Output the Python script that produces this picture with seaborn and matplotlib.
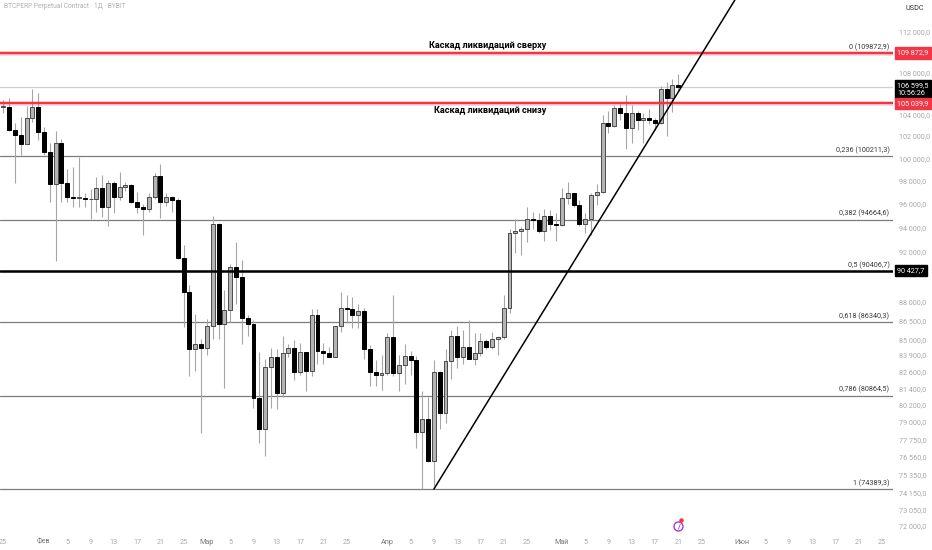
import matplotlib
matplotlib.use("Agg")
import matplotlib.pyplot as plt
import matplotlib.dates as mdates
from matplotlib.ticker import NullLocator
import pandas as pd
import seaborn as sns

# дневные свечи BTCPERP (Bybit), 24.01 - 21.05.2025
start_date = "2025-01-24"
opens = [104000, 104700, 104700, 102600, 102100, 101300, 103700, 104700,
         102400, 100600, 97700, 101400, 97800, 96600, 96500, 96500, 96400, 96400, 97400, 95700,
         97800, 96600, 97500, 97600, 96200, 95700, 95600, 96600, 98400, 96200, 96600, 96300,
         91500, 88700, 84300, 84700,
         84400, 86100, 94300, 86200, 87300, 90700, 89900, 86700, 86200, 80700, 78500, 83000,
         83700, 81100, 84000, 84400, 82600, 84100, 82700, 86900, 84200, 84000, 83700, 86100,
         87500, 87400, 86900, 87200, 84300, 82600, 82400,
         82500, 85200, 82500, 83100, 83800, 83500, 78300, 79200, 76300, 82600, 79600, 83400,
         85300, 83700, 84500, 83600, 84000, 84900, 84500, 85100, 85200, 87500, 93500, 93700,
         93900, 94700, 94600, 93700, 95000, 94300,
         94200, 96500, 96900, 95900, 94300, 94700, 96800, 97000, 103200, 102900, 104600, 104100,
         102700, 104100, 103500, 103700, 103500, 103200, 106400, 105500, 106800]
highs = [107000, 105300, 105500, 103200, 103800, 104800, 106400, 106000,
         102800, 101400, 102500, 101700, 99000, 99200, 100100, 96900, 97300, 98300, 98500, 98100,
         98000, 98800, 97900, 97700, 97000, 96000, 96900, 98700, 99500, 96900, 96700, 96500,
         92500, 89300, 87000, 85100,
         86600, 95000, 94400, 88900, 91000, 92800, 91300, 86900, 86500, 84100, 83600, 84400,
         84300, 85300, 84700, 85000, 84800, 84100, 87400, 87400, 84800, 84500, 86100, 88700,
         88500, 88300, 87800, 87500, 84600, 83500, 83900,
         85500, 88500, 83900, 84700, 84200, 83800, 81200, 80800, 83500, 82700, 84300, 85800,
         86100, 85800, 86500, 85500, 85500, 85100, 85600, 85300, 88500, 93900, 94700, 94000,
         95700, 95300, 95200, 95600, 95500, 95200,
         97400, 97900, 96900, 96300, 95200, 96900, 97700, 103900, 104300, 104900, 105000, 105800,
         104900, 104300, 104100, 104500, 103700, 106700, 107100, 107300, 107800]
lows = [103200, 104100, 102500, 97800, 100300, 101300, 103300, 101600,
        100300, 96200, 91200, 96200, 96200, 95700, 95700, 95700, 94700, 95300, 94900, 94100,
        95200, 96300, 97100, 96100, 95200, 93400, 95300, 96400, 94800, 95800, 95300, 91400,
        86000, 82300, 82700, 78200,
        83900, 85100, 85100, 81400, 86400, 87800, 84700, 85300, 80000, 77500, 76600, 80000,
        79900, 80800, 83700, 82000, 82400, 81200, 82300, 83200, 83200, 83700, 83700, 85600,
        86300, 85900, 85900, 83600, 81600, 81600, 81300,
        82400, 82300, 81200, 81700, 82400, 77200, 74400, 76200, 74600, 78500, 78900, 82100,
        82900, 83200, 83600, 83100, 83800, 84300, 84300, 83900, 85100, 87100, 91900, 91700,
        92800, 93900, 93500, 92900, 93800, 92900,
        94100, 96000, 95700, 94100, 93500, 93400, 95900, 96900, 102300, 102800, 103500, 100800,
        101400, 102600, 101400, 103100, 102600, 103100, 102000, 104200, 106200]
closes = [104700, 104700, 102600, 102100, 101300, 103700, 104700, 102400,
          100600, 97700, 101400, 97800, 96600, 96500, 96500, 96400, 96400, 97400, 95700, 97800,
          96600, 97500, 97600, 96200, 95700, 95600, 96600, 98400, 96200, 96600, 96300, 91500,
          88700, 84300, 84700, 84400,
          86100, 94300, 86200, 87300, 90700, 89900, 86700, 86200, 80700, 78500, 83000, 83700,
          81100, 84000, 84400, 82600, 84100, 82700, 86900, 84200, 84000, 83700, 86100, 87500,
          87400, 86900, 87200, 84300, 82600, 82400, 82500,
          85200, 82500, 83100, 83800, 83500, 78300, 79200, 76300, 82600, 79600, 83400, 85300,
          83700, 84500, 83600, 84000, 84900, 84500, 85100, 85200, 87500, 93500, 93700, 93900,
          94700, 94600, 93700, 95000, 94300, 94200,
          96500, 96900, 95900, 94300, 94700, 96800, 97000, 103200, 102900, 104600, 104100, 102700,
          104100, 103500, 103700, 103500, 103200, 106400, 105500, 106800, 106599.5]

fib_names = ["0", "0,236", "0,382", "0,5", "0,618", "0,786", "1"]
fib_prices = [109872.9, 100211.3, 94664.6, 90406.7, 86340.3, 80864.5, 74389.3]

red_levels = [109872.9, 105039.9]
black_level = 90427.7
last_price = 106599.5
countdown = "10:56:26"

trend_dates = ["2025-04-09 00:00", "2025-05-30 17:30"]
trend_prices = [74389.3, 115200]

price_ticks = [112000, 108000, 104000, 102000, 100000, 98000, 96000, 94000, 92000,
               88000, 86500, 85000, 83900, 82600, 81400, 80200, 79000, 77750, 76560,
               75350, 74150, 73050, 72000]

tick_dates = ["2025-01-25", "2025-02-01", "2025-02-05", "2025-02-09", "2025-02-13", "2025-02-17",
              "2025-02-21", "2025-02-25", "2025-03-01", "2025-03-05", "2025-03-09", "2025-03-13",
              "2025-03-17", "2025-03-21", "2025-03-25", "2025-04-01", "2025-04-05", "2025-04-09",
              "2025-04-13", "2025-04-17", "2025-04-21", "2025-04-25", "2025-05-01", "2025-05-05",
              "2025-05-09", "2025-05-13", "2025-05-17", "2025-05-21", "2025-05-25", "2025-06-01",
              "2025-06-05", "2025-06-09", "2025-06-13", "2025-06-17", "2025-06-21", "2025-06-25"]
tick_labels = ["25", "Фев", "5", "9", "13", "17", "21", "25", "Мар", "5", "9", "13", "17", "21",
               "25", "Апр", "5", "9", "13", "17", "21", "25", "Май", "5", "9", "13", "17", "21",
               "25", "Июн", "5", "9", "13", "17", "21", "25"]
month_labels = ["Фев", "Мар", "Апр", "Май", "Июн"]

df = pd.DataFrame({"open": opens, "high": highs, "low": lows, "close": closes})
df["date"] = pd.date_range(start_date, periods=len(df), freq="D")
df["up"] = df["close"] >= df["open"]

sns.set_theme(style="white")
plt.rcParams["font.family"] = ["Roboto", "DejaVu Sans"]

fig = plt.figure(figsize=(9.32, 5.5), dpi=100)
ax = fig.add_axes([0, 18 / 550, 893 / 932, 532 / 550])
ax.set_yscale("log")

# фитили и тела свечей
x = mdates.date2num(df["date"])
ax.vlines(x, df["low"], df["high"], color="#a6a6a6", linewidth=0.8, zorder=2)
bottom = df[["open", "close"]].min(axis=1).values
height = (df["close"] - df["open"]).abs().clip(lower=df["close"] * 0.0006).values
up = df["up"].values
ax.bar(x[up], height[up], bottom=bottom[up], width=0.68, color="#b4b4b4",
       edgecolor="#4a4a4a", linewidth=0.7, zorder=3)
ax.bar(x[~up], height[~up], bottom=bottom[~up], width=0.68, color="black",
       edgecolor="black", linewidth=0.7, zorder=3)

# уровни Фибоначчи
ytr = ax.get_yaxis_transform()
for name, p in zip(fib_names, fib_prices):
    ax.axhline(p, color="#7d7d7d", linewidth=0.9, zorder=1)
    ax.annotate(f"{name} ({p:.1f})".replace(".", ","), xy=(0.996, p),
                xycoords=ytr, xytext=(0, 1.5), textcoords="offset points",
                ha="right", va="bottom", fontsize=5.2, color="#3a3a3a")

ax.axhline(last_price, color="#cfcfcf", linewidth=0.9, zorder=1)
ax.axhline(black_level, color="black", linewidth=1.8, zorder=4)
for p in red_levels:
    ax.axhline(p, color="#f23645", linewidth=3.4, alpha=0.22, zorder=4)
    ax.axhline(p, color="#f23645", linewidth=1.6, zorder=4)

# трендовая линия
trend = pd.DataFrame({"date": pd.to_datetime(trend_dates), "price": trend_prices})
sns.lineplot(data=trend, x="date", y="price", ax=ax, color="black", linewidth=1.1, zorder=5)

ax.annotate("Каскад ликвидаций сверху", xy=(0.5465, red_levels[0]),
            xycoords=ytr, xytext=(0, 2), textcoords="offset points",
            ha="center", va="bottom", fontsize=6.6, fontweight="bold", color="black")
ax.annotate("Каскад ликвидаций снизу", xy=(0.549, red_levels[1]),
            xycoords=ytr, xytext=(0, -2), textcoords="offset points",
            ha="center", va="top", fontsize=6.6, fontweight="bold", color="black")

ax.set_ylim(71590, 115200)
feb1 = mdates.date2num(pd.Timestamp("2025-02-01"))
ax.set_xlim(feb1 - 7.56, feb1 + 145.9)

# шкала цен справа
ax.yaxis.set_minor_locator(NullLocator())
ax.yaxis.tick_right()
ax.set_yticks(price_ticks)
ax.set_yticklabels([f"{v:,.1f}".replace(",", " ").replace(".", ",") for v in price_ticks])
ax.tick_params(axis="y", length=0, pad=4, labelsize=5.2, labelcolor="#a8a8a8")

ax.set_xticks(mdates.date2num(pd.to_datetime(tick_dates)))
ax.set_xticklabels(tick_labels)
ax.tick_params(axis="x", length=0, pad=5, labelsize=5.2, labelcolor="#a8a8a8")
for lab in ax.get_xticklabels():
    if lab.get_text() in month_labels:
        lab.set_color("#7a7a7a")
ax.set_xlabel("")
ax.set_ylabel("")
for s in ax.spines.values():
    s.set_visible(False)
ax.grid(False)


# метки цен на шкале
def price_box(p, text, color, dy=0, va="center"):
    ax.annotate(text, xy=(1.0, p), xycoords=ytr, xytext=(3, dy), textcoords="offset points",
                ha="left", va=va, fontsize=5.2, color="white", annotation_clip=False,
                bbox=dict(boxstyle="square,pad=0.3", fc=color, ec=color), zorder=10)


price_box(last_price, "106 599,5\n" + countdown, "black", dy=3.2, va="top")
price_box(red_levels[0], "109 872,9", "#f23645")
price_box(red_levels[1], "105 039,9", "#f23645")
price_box(black_level, "90 427,7", "black")

fig.text(905 / 932, 1 - 9 / 550, "USDC", fontsize=5.2, color="#333333", va="center")
fig.text(4 / 932, 1 - 7 / 550, "BTCPERP Perpetual Contract · 1Д · BYBIT", fontsize=4.8,
         color="#b0b0b0", va="center")

# значок событий внизу
ev = mdates.date2num(pd.Timestamp("2025-05-21"))
ax.scatter([ev], [72000], s=42, facecolor="white", edgecolor="#a23bd6", linewidth=1.0,
           zorder=6, clip_on=False)
ax.text(ev, 72000, "/", fontsize=5.5, fontweight="bold", color="#a23bd6", ha="center",
        va="center", zorder=7)
ax.scatter([ev + 0.5], [72350], s=5, color="#f23645", zorder=8, clip_on=False)

fig.savefig("out.png", dpi=100, facecolor="white")
